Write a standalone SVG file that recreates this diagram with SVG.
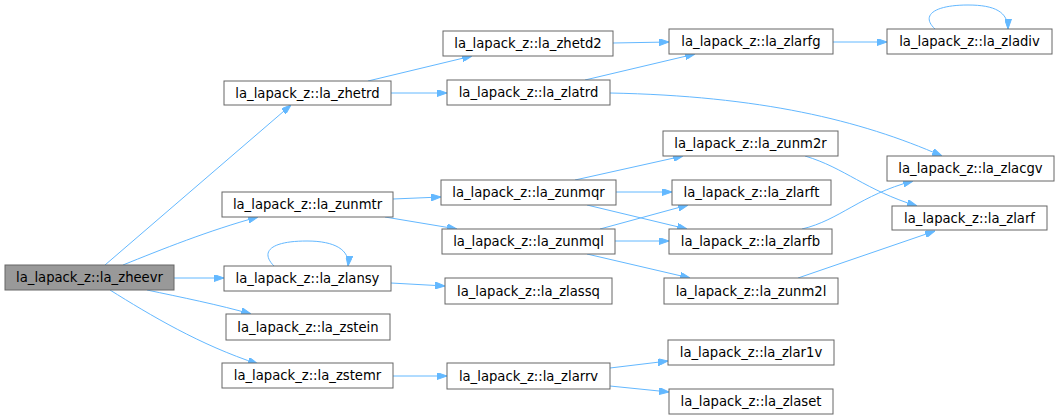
<svg xmlns="http://www.w3.org/2000/svg" width="1059" height="420" viewBox="0 0 1059 420">
<style>
.n rect{fill:#ffffff;stroke:#666666;stroke-width:1}
.n.hl rect{fill:#999999}
.n text{font-family:"DejaVu Sans",sans-serif;font-size:13.2px;fill:#000000;text-anchor:middle}
.e path{fill:none;stroke:#63b8ff;stroke-width:1;marker-end:url(#ah)}
</style>
<defs>
<marker id="ah" viewBox="0 0 10 7" refX="10" refY="3.5" markerWidth="10" markerHeight="7" markerUnits="userSpaceOnUse" orient="auto">
<path d="M0,0 L10,3.5 L0,7 Z" fill="#63b8ff" stroke="#63b8ff" stroke-width="1"/>
</marker>
</defs>
<rect width="1059" height="420" fill="#ffffff"/>
<g id="edges" class="e">
<path d="M105,265 L291,105"/>
<path d="M123,265 C160,250 210,230 258,217"/>
<path d="M174,278 L224,278"/>
<path d="M147,290 C180,297 220,305 251,314"/>
<path d="M110,290 C150,315 200,345 258,364"/>
<path d="M368,81 L472,56"/>
<path d="M391,93 L447,93"/>
<path d="M613,43 L669,42"/>
<path d="M585,80 L695,54"/>
<path d="M610,93 C760,96 860,120 942,156"/>
<path d="M833,42 L887,42"/>
<path d="M935,29 C920,15 935,5 968,5 C995,5 1008,12 1008,29"/>
<path d="M393,199 L441,197"/>
<path d="M385,217 L457,229"/>
<path d="M575,180 L683,156"/>
<path d="M616,192 L672,192"/>
<path d="M587,205 L687,229"/>
<path d="M600,229 L688,205"/>
<path d="M615,241 L669,241"/>
<path d="M587,254 L690,278"/>
<path d="M805,156 C845,168 865,190 917,206"/>
<path d="M802,229 C840,220 860,195 913,181"/>
<path d="M798,278 L935,231"/>
<path d="M391,283 L445,286"/>
<path d="M274,266 C260,252 270,241 307,241 C335,241 350,250 348,266"/>
<path d="M393,376 L447,376"/>
<path d="M610,368 L668,361"/>
<path d="M610,386 L669,392"/>
</g>
<g id="zheevr" class="n hl"><rect x="5" y="265" width="169" height="25"/><text x="89.5" y="282">la_lapack_z::la_zheevr</text></g>
<g id="zhetrd" class="n"><rect x="224" y="81" width="167" height="24"/><text x="307.5" y="97.5">la_lapack_z::la_zhetrd</text></g>
<g id="zhetd2" class="n"><rect x="443" y="31" width="170" height="25"/><text x="528" y="48">la_lapack_z::la_zhetd2</text></g>
<g id="zlatrd" class="n"><rect x="447" y="80" width="163" height="25"/><text x="528.5" y="97">la_lapack_z::la_zlatrd</text></g>
<g id="zlarfg" class="n"><rect x="669" y="29" width="164" height="25"/><text x="751" y="46">la_lapack_z::la_zlarfg</text></g>
<g id="zladiv" class="n"><rect x="887" y="29" width="165" height="25"/><text x="969.5" y="46">la_lapack_z::la_zladiv</text></g>
<g id="zunm2r" class="n"><rect x="663" y="131" width="175" height="25"/><text x="750.5" y="148">la_lapack_z::la_zunm2r</text></g>
<g id="zlacgv" class="n"><rect x="887" y="156" width="167" height="25"/><text x="970.5" y="173">la_lapack_z::la_zlacgv</text></g>
<g id="zlarft" class="n"><rect x="672" y="180" width="159" height="25"/><text x="751.5" y="197">la_lapack_z::la_zlarft</text></g>
<g id="zlarf" class="n"><rect x="892" y="206" width="155" height="24"/><text x="969.5" y="222.5">la_lapack_z::la_zlarf</text></g>
<g id="zlarfb" class="n"><rect x="669" y="229" width="163" height="25"/><text x="750.5" y="246">la_lapack_z::la_zlarfb</text></g>
<g id="zunm2l" class="n"><rect x="664" y="278" width="174" height="26"/><text x="751" y="295.5">la_lapack_z::la_zunm2l</text></g>
<g id="zlar1v" class="n"><rect x="668" y="340" width="166" height="25"/><text x="751" y="357">la_lapack_z::la_zlar1v</text></g>
<g id="zlaset" class="n"><rect x="669" y="389" width="164" height="25"/><text x="751" y="406">la_lapack_z::la_zlaset</text></g>
<g id="zunmtr" class="n"><rect x="222" y="192" width="171" height="25"/><text x="307.5" y="209">la_lapack_z::la_zunmtr</text></g>
<g id="zlansy" class="n"><rect x="224" y="266" width="167" height="25"/><text x="307.5" y="283">la_lapack_z::la_zlansy</text></g>
<g id="zstein" class="n"><rect x="226" y="314" width="164" height="26"/><text x="308" y="331.5">la_lapack_z::la_zstein</text></g>
<g id="zstemr" class="n"><rect x="222" y="363" width="171" height="25"/><text x="307.5" y="380">la_lapack_z::la_zstemr</text></g>
<g id="zunmqr" class="n"><rect x="441" y="180" width="175" height="25"/><text x="528.5" y="197">la_lapack_z::la_zunmqr</text></g>
<g id="zunmql" class="n"><rect x="442" y="229" width="173" height="25"/><text x="528.5" y="246">la_lapack_z::la_zunmql</text></g>
<g id="zlassq" class="n"><rect x="445" y="278" width="167" height="26"/><text x="528.5" y="295.5">la_lapack_z::la_zlassq</text></g>
<g id="zlarrv" class="n"><rect x="447" y="363" width="163" height="26"/><text x="528.5" y="380.5">la_lapack_z::la_zlarrv</text></g>
</svg>
